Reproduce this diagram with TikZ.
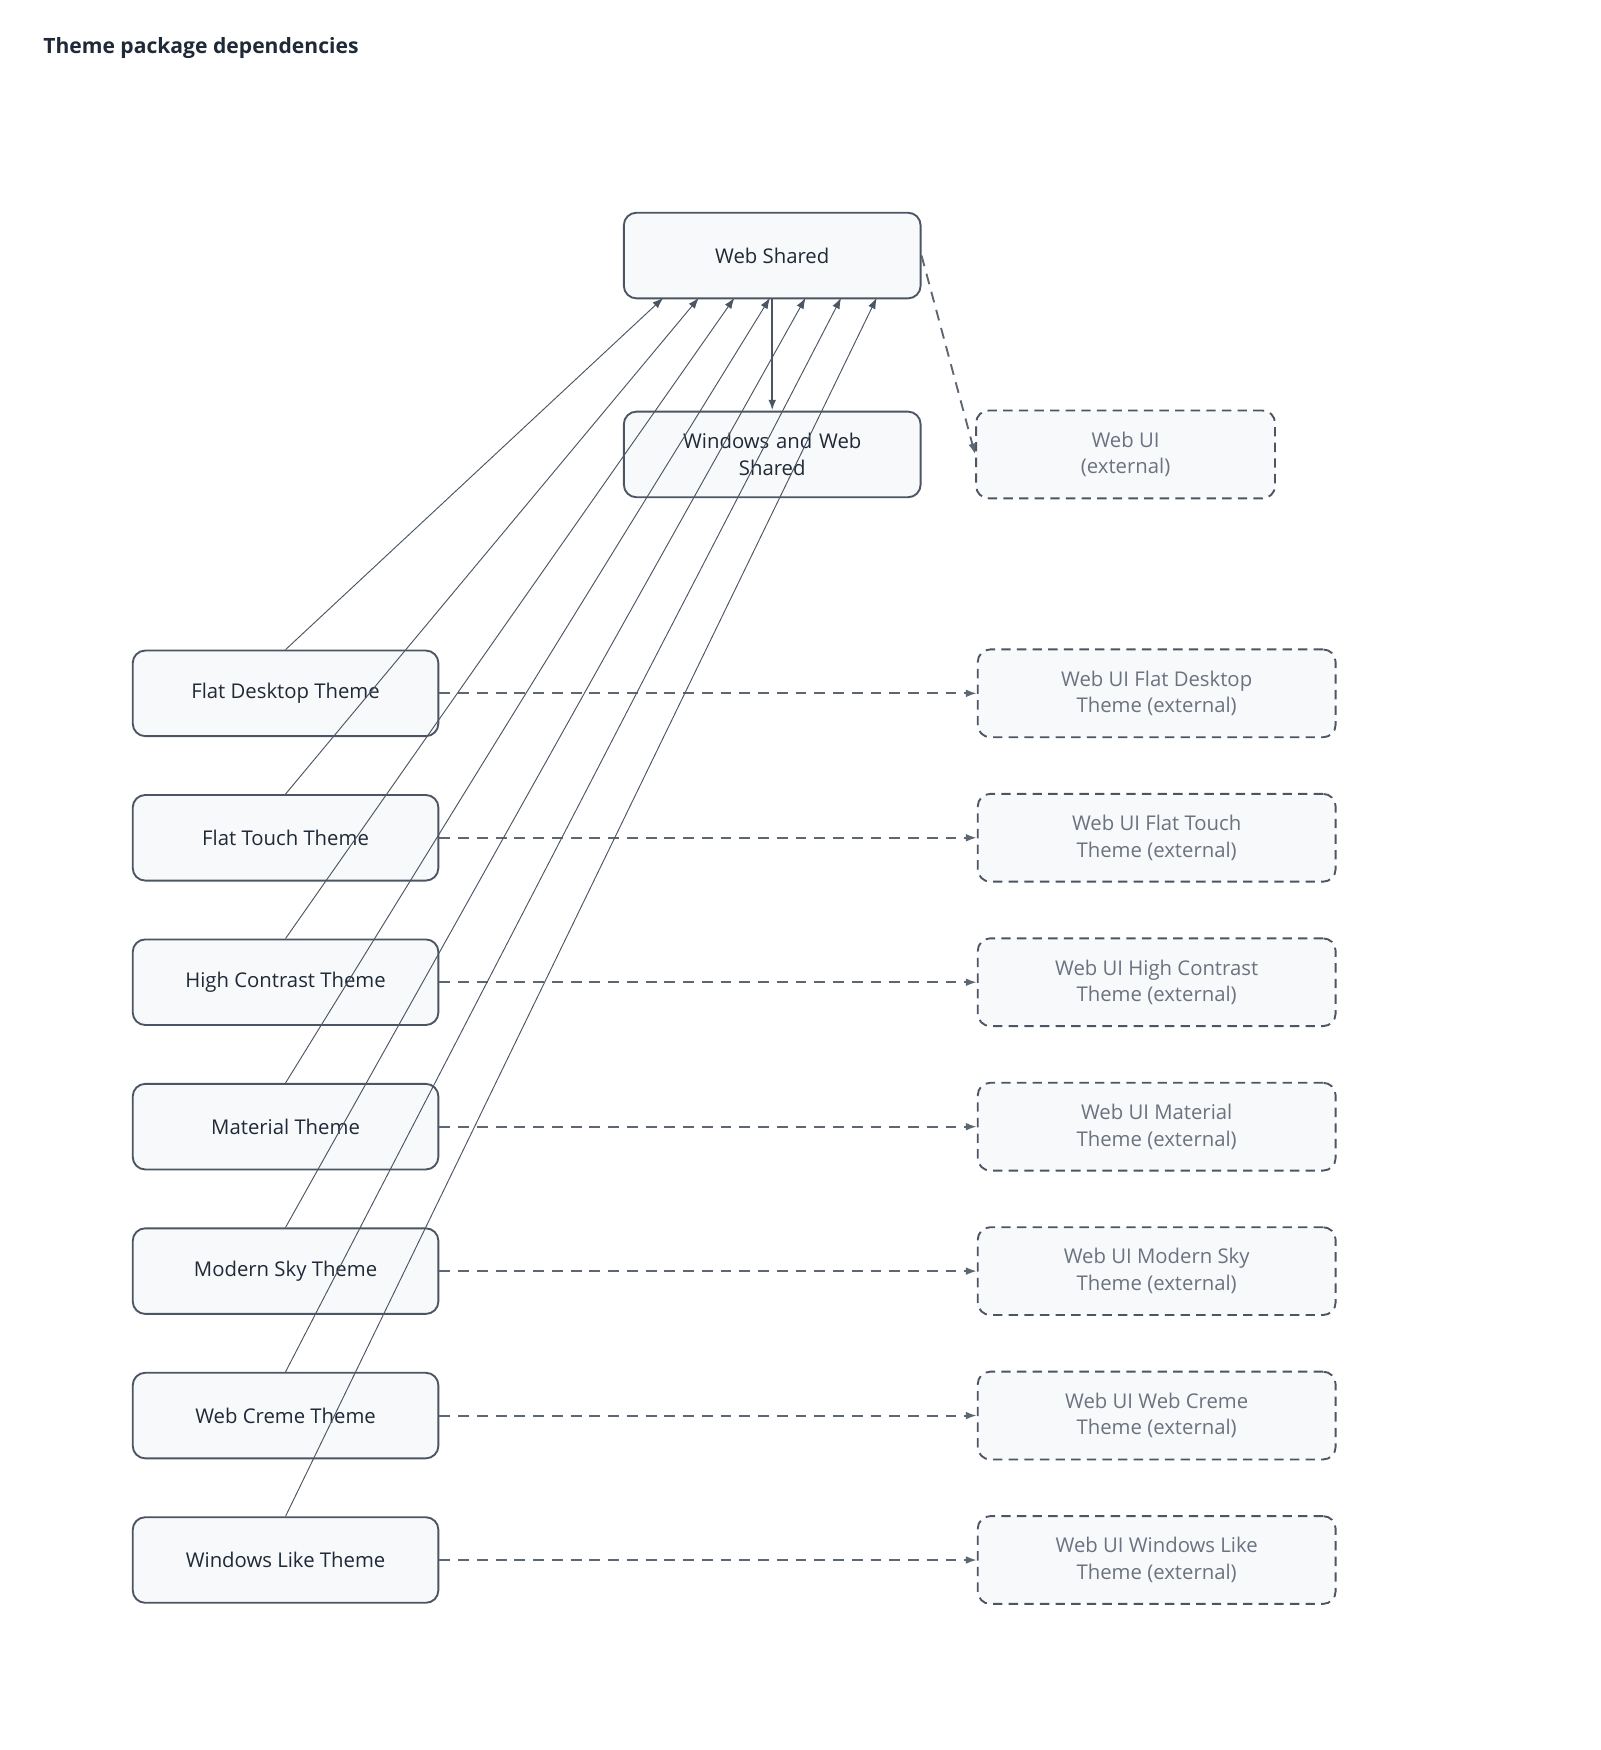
\documentclass[tikz,border=0pt]{standalone}
\usepackage{fontspec}
\setmainfont{Open Sans}
\usetikzlibrary{arrows.meta}
\definecolor{ink}{HTML}{1F2937}
\definecolor{edge}{HTML}{4B5563}
\definecolor{boxfill}{HTML}{F8F9FB}
\definecolor{muted}{HTML}{6B7280}
\tikzset{
  pkg/.style={draw=edge, line width=1.2pt, rounded corners=8pt, fill=boxfill,
    text=ink, align=center, font=\fontsize{13}{16}\selectfont,
    minimum width=6.875cm, minimum height=1.925cm, inner sep=2pt},
  ext/.style={pkg, dashed, dash pattern=on 6pt off 4pt, text=muted,
    minimum width=8.05cm, minimum height=1.975cm},
  dep/.style={draw=edge, line width=0.6pt, -{Latex[length=7pt,width=5pt]}},
  extdep/.style={draw=edge!90, line width=1.2pt, dash pattern=on 7pt off 5pt,
    -{Latex[length=7pt,width=5pt]}}
}
\begin{document}
\begin{tikzpicture}[x=0.025cm, y=-0.025cm]
  \useasboundingbox (0,0) rectangle (1440,1575);
  \node[anchor=west, text=ink, font=\fontsize{13.5}{16}\selectfont\bfseries] (title) at (34,43) {Theme package dependencies};

  % shared packages
  \node[pkg, minimum width=6.675cm] (shared) at (695,230) {Web Shared};
  \node[pkg, minimum width=6.675cm, text width=5.2cm] (winweb) at (695,409) {Windows and Web\\[1pt]Shared};
  \node[ext, minimum width=6.725cm] (webui) at (1013,409) {Web UI\\[1pt](external)};

  % themes
  \foreach \name/\label/\extlabel/\y/\tx [count=\i] in {
      flat/Flat Desktop Theme/Web UI Flat Desktop/624/597,
      touch/Flat Touch Theme/Web UI Flat Touch/754/629,
      contrast/High Contrast Theme/Web UI High Contrast/884/661,
      material/Material Theme/Web UI Material/1014/693,
      sky/Modern Sky Theme/Web UI Modern Sky/1144/725,
      creme/Web Creme Theme/Web UI Web Creme/1274/757,
      winlike/Windows Like Theme/Web UI Windows Like/1404/789} {
    \node[pkg] (\name) at (257,\y) {\label};
    \node[ext] (\name-ext) at (1041,\y) {\extlabel\\[1pt]Theme (external)};
    \coordinate (\name-in) at (\tx,268);
    \draw[extdep] (\name.east) -- (\name-ext.west);
  }

  \foreach \name in {flat,touch,contrast,material,sky,creme,winlike}
    \draw[dep] (\name.north) -- (\name-in);

  \draw[draw=edge, line width=1.4pt, -{Latex[length=7pt,width=5pt]}] (shared.south) -- (winweb.north);
  \draw[extdep] (shared.east) -- (webui.west);
\end{tikzpicture}
\end{document}
